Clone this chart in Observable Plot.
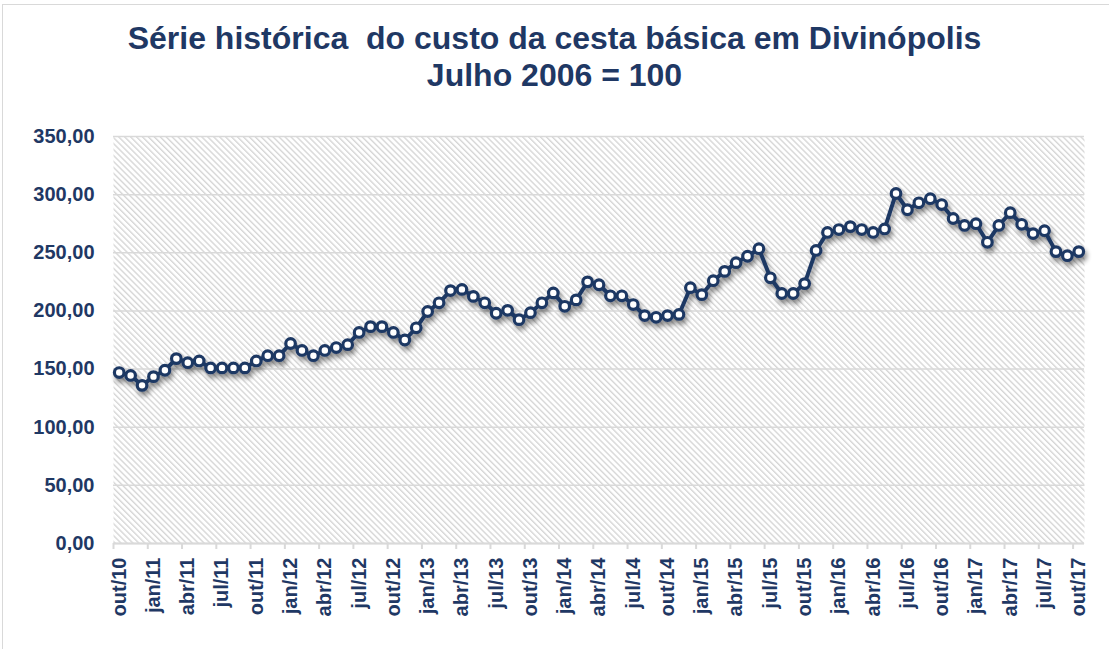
<!DOCTYPE html>
<html><head><meta charset="utf-8">
<script src="https://cdn.jsdelivr.net/npm/d3@7"></script>
<script src="https://cdn.jsdelivr.net/npm/@observablehq/plot@0.6"></script>
<style>
html,body{margin:0;padding:0;background:#fff;}
#chart{position:relative;width:1109px;height:649px;overflow:hidden;font-family:"Liberation Sans",Arial,sans-serif;}
#frame{position:absolute;left:2px;top:4px;width:1130px;height:670px;border:1.5px solid #d9d9d9;box-sizing:border-box;}
#title{position:absolute;left:0;top:20px;width:1109px;text-align:center;font-weight:bold;font-size:32px;line-height:37px;color:#1f3864;white-space:pre;}
#plot{position:absolute;left:0;top:100px;}
</style></head>
<body>
<div id="chart"><div id="frame"></div><div id="title">Série histórica  do custo da cesta básica em Divinópolis
Julho 2006 = 100</div><div id="plot"></div></div>
<script>
const months = [
  "out/10","nov/10","dez/10",
  "jan/11","fev/11","mar/11","abr/11","mai/11","jun/11","jul/11","ago/11","set/11","out/11","nov/11","dez/11",
  "jan/12","fev/12","mar/12","abr/12","mai/12","jun/12","jul/12","ago/12","set/12","out/12","nov/12","dez/12",
  "jan/13","fev/13","mar/13","abr/13","mai/13","jun/13","jul/13","ago/13","set/13","out/13","nov/13","dez/13",
  "jan/14","fev/14","mar/14","abr/14","mai/14","jun/14","jul/14","ago/14","set/14","out/14","nov/14","dez/14",
  "jan/15","fev/15","mar/15","abr/15","mai/15","jun/15","jul/15","ago/15","set/15","out/15","nov/15","dez/15",
  "jan/16","fev/16","mar/16","abr/16","mai/16","jun/16","jul/16","ago/16","set/16","out/16","nov/16","dez/16",
  "jan/17","fev/17","mar/17","abr/17","mai/17","jun/17","jul/17","ago/17","set/17","out/17"
];
const values = [
  147,144.5,136,
  143.5,149,159,155.5,157,151,151,151,151,157,161.5,161.5,
  172,166,161.5,166,168.5,171,181.5,186.5,186.5,181.5,175,185.5,
  199.5,207,217.5,218.5,212.5,207,198,200.5,192.5,198.5,207,215.5,
  204,209.5,225,222.5,213,213,205.5,196,194.5,196,197,220,
  214,226,234,241.5,247,253.5,228.5,215,215,223.5,252,267.5,
  270,272.5,270,267.5,270.5,301,287,293,296.5,291.5,279.5,273.5,
  275,259,273.5,284.5,274.5,266.5,269,251,247.5,251
];
const tickLabels = ["out/10","jan/11","abr/11","jul/11","out/11","jan/12","abr/12","jul/12","out/12","jan/13","abr/13","jul/13","out/13","jan/14","abr/14","jul/14","out/14","jan/15","abr/15","jul/15","out/15","jan/16","abr/16","jul/16","out/16","jan/17","abr/17","jul/17","out/17"];
const yTicks = [0,50,100,150,200,250,300,350];

const navy = "#1f3864";
const data = months.map((m, i) => ({i, m, v: values[i]}));
const labelIdx = tickLabels.map(l => months.indexOf(l));
const tickEdges = labelIdx.map(i => i - 0.5);
const fmt = d => d.toFixed(2).replace(".", ",");

const chart = Plot.plot({
  width: 1109, height: 549,
  marginLeft: 113, marginRight: 25, marginTop: 36, marginBottom: 106,
  style: {fontFamily: '"Liberation Sans",Arial,sans-serif', fontSize: "20px", fontWeight: "bold", color: navy, background: "transparent", overflow: "visible"},
  x: {domain: [-0.5, months.length - 0.5], axis: null},
  y: {domain: [0, 350], axis: null},
  marks: [
    Plot.frame({fill: "url(#hatch)", stroke: null}),
    Plot.gridY(yTicks, {stroke: "#d9d9d9", strokeOpacity: 1, strokeWidth: 1.5}),
    Plot.axisY(yTicks, {tickSize: 0, tickPadding: 19, tickFormat: fmt, fill: navy, label: null}),
    Plot.ruleY([0], {stroke: "#d9d9d9", strokeWidth: 2}),
    Plot.axisX(tickEdges, {tickSize: 6, tickFormat: () => "", stroke: "#d9d9d9", strokeWidth: 2, strokeOpacity: 1, label: null}),
    Plot.axisX(labelIdx, {tickSize: 0, tickPadding: 14, tickRotate: -90, tickFormat: i => months[i], fill: navy, label: null}),
    Plot.line(data, {x: "i", y: "v", stroke: navy, strokeWidth: 4}),
    Plot.dot(data, {x: "i", y: "v", r: 4.8, fill: "white", stroke: navy, strokeWidth: 3.2})
  ]
});

d3.select(chart).insert("defs", ":first-child").html(
  '<pattern id="hatch" patternUnits="userSpaceOnUse" width="4.2" height="4.2" patternTransform="rotate(45)">' +
  '<rect width="4.2" height="4.2" fill="white"/>' +
  '<line x1="0" y1="1" x2="4.2" y2="1" stroke="#d6d6d6" stroke-width="1.4"/></pattern>' +
  '<filter id="shadow" x="-5%" y="-10%" width="110%" height="130%">' +
  '<feGaussianBlur in="SourceAlpha" stdDeviation="2.5"/>' +
  '<feOffset dx="2" dy="4" result="off"/>' +
  '<feComponentTransfer><feFuncA type="linear" slope="0.45"/></feComponentTransfer>' +
  '<feMerge><feMergeNode/><feMergeNode in="SourceGraphic"/></feMerge></filter>'
);
const sel = d3.select(chart);
const lineG = sel.select('g[aria-label="line"]').node();
const dotG = sel.select('g[aria-label="dot"]').node();
const wrap = document.createElementNS("http://www.w3.org/2000/svg", "g");
wrap.setAttribute("filter", "url(#shadow)");
lineG.parentNode.insertBefore(wrap, lineG);
wrap.appendChild(lineG);
wrap.appendChild(dotG);

document.getElementById("plot").appendChild(chart);
</script>
</body></html>
